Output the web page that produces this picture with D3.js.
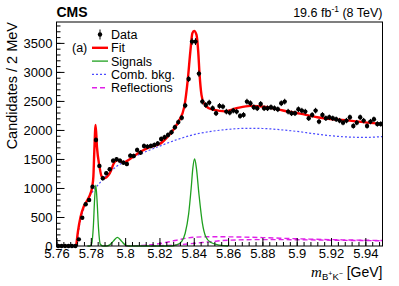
<!DOCTYPE html>
<html>
<head>
<meta charset="utf-8">
<script src="https://cdn.jsdelivr.net/npm/d3@7"></script>
<style>
  body { margin: 0; background: #fff; }
  svg { font-family: "Liberation Sans", Arial, sans-serif; }
</style>
</head>
<body>
<svg id="chart" width="399" height="286"></svg>
<script>
// Data: counts per 2 MeV bin, starting at 5.760 GeV
const binStart = 5.76;
const binWidth = 0.002;
const counts = [
  0, 0, 0, 0, 0, 0, 115, 488, 719, 793,
  1022, 1828, 1380, 1167, 1253, 1322, 1471, 1494, 1471, 1436,
  1414, 1557, 1552, 1655, 1609, 1724, 1713, 1724, 1741, 1767,
  1845, 1874, 1914, 1960, 2046, 2135, 2210, 2420, 2879, 3522,
  3522, 2971, 2488, 2431, 2471, 2374, 2287, 2414, 2402, 2316,
  2299, 2333, 2316, 2241, 2259, 2488, 2460, 2391, 2374, 2448,
  2374, 2374, 2391, 2374, 2356, 2460, 2488, 2316, 2287, 2287,
  2356, 2333, 2316, 2201, 2259, 2333, 2144, 2259, 2201, 2218,
  2201, 2184, 2161, 2126, 2161, 2218, 2069, 2126, 2218, 2161,
  2069, 2144, 2184, 2103, 2103
];

// Fit components, [mass, candidates]
const fitCurve = [
  [5.7715, 0], [5.7725, 250], [5.774, 500], [5.776, 690], [5.778, 790],
  [5.7795, 880], [5.7808, 1020], [5.7815, 1200], [5.782, 1600], [5.7828, 2086],
  [5.7836, 1700], [5.785, 1380], [5.7863, 1200], [5.788, 1170], [5.791, 1253],
  [5.794, 1453], [5.796, 1483], [5.799, 1436], [5.802, 1483], [5.8087, 1620],
  [5.814, 1700], [5.8203, 1760], [5.824, 1860], [5.827, 1960], [5.829, 2040],
  [5.8311, 2143], [5.8345, 2402], [5.8365, 2862], [5.838, 3350], [5.8392, 3667],
  [5.8402, 3707], [5.8416, 3638], [5.8426, 3350], [5.8434, 2948], [5.8445, 2603],
  [5.8459, 2460], [5.8488, 2374], [5.852, 2345], [5.858, 2320], [5.865, 2375],
  [5.873, 2415], [5.882, 2395], [5.892, 2335], [5.902, 2280], [5.912, 2218],
  [5.921, 2184], [5.931, 2161], [5.941, 2126], [5.95, 2103]
];
const signalCurve = [
  [5.778, 0], [5.7795, 0], [5.7805, 40], [5.7815, 350], [5.7822, 800],
  [5.7829, 1050], [5.7836, 800], [5.7845, 300], [5.7855, 30], [5.787, 0],
  [5.789, 0], [5.791, 20], [5.793, 80], [5.7955, 150], [5.798, 80],
  [5.80, 20], [5.802, 0], [5.826, 0], [5.83, 20], [5.833, 80],
  [5.835, 220], [5.837, 550], [5.8385, 1000], [5.8395, 1350], [5.8405, 1500],
  [5.8415, 1350], [5.843, 900], [5.845, 400], [5.847, 160], [5.85, 60],
  [5.855, 15], [5.86, 0]
];
const combBkg = [
  [5.7718, 0], [5.7728, 250], [5.774, 450], [5.776, 650], [5.778, 790],
  [5.78, 890], [5.785, 1080], [5.79, 1240], [5.795, 1370], [5.80, 1460],
  [5.81, 1600], [5.82, 1720], [5.83, 1830], [5.84, 1920], [5.85, 1975],
  [5.86, 2010], [5.87, 2028], [5.88, 2025], [5.89, 2005], [5.90, 1975],
  [5.91, 1935], [5.92, 1900], [5.93, 1878], [5.94, 1872], [5.95, 1885]
];
const reflection1 = [
  [5.80, 0], [5.81, 10], [5.82, 40], [5.83, 100], [5.84, 150], [5.85, 160],
  [5.86, 158], [5.88, 145], [5.90, 125], [5.92, 110], [5.95, 95]
];
const reflection2 = [
  [5.815, 0], [5.83, 20], [5.84, 45], [5.85, 75], [5.86, 100], [5.88, 110],
  [5.90, 108], [5.92, 100], [5.95, 90]
];

const xTicks = [5.76, 5.78, 5.8, 5.82, 5.84, 5.86, 5.88, 5.9, 5.92, 5.94];
const yTicks = [0, 500, 1000, 1500, 2000, 2500, 3000, 3500];

const padLeft = 56.5, padRight = 382.5, padTop = 22, padBottom = 246;
const svg = d3.select("#chart");

const x = d3.scaleLinear().domain([5.76, 5.95]).range([padLeft, padRight]);
const y = d3.scaleLinear().domain([0, 3860]).range([padBottom, padTop]);

// curves
const line = d3.line()
  .x((d) => x(d[0]))
  .y((d) => y(d[1]))
  .curve(d3.curveMonotoneX);

svg.append("path").datum(combBkg)
  .attr("d", line).attr("fill", "none")
  .attr("stroke", "#4b4bff").attr("stroke-width", 1.2)
  .attr("stroke-dasharray", "2,2");
svg.append("path").datum(reflection1)
  .attr("d", line).attr("fill", "none")
  .attr("stroke", "#e020e8").attr("stroke-width", 1.4)
  .attr("stroke-dasharray", "5,3");
svg.append("path").datum(reflection2)
  .attr("d", line).attr("fill", "none")
  .attr("stroke", "#e020e8").attr("stroke-width", 1.4)
  .attr("stroke-dasharray", "5,3");
svg.append("path").datum(signalCurve)
  .attr("d", line).attr("fill", "none")
  .attr("stroke", "#1fa01f").attr("stroke-width", 1.3);
svg.append("path").datum(fitCurve)
  .attr("d", line).attr("fill", "none")
  .attr("stroke", "#ff0000").attr("stroke-width", 2.4);

// data points with error bars
const points = counts.map((c, i) => ({ m: binStart + binWidth * (i + 0.5), c: c }));
const pts = svg.append("g");
pts.selectAll(".eh").data(points).enter().append("line")
  .attr("x1", (d) => x(d.m - binWidth / 2))
  .attr("x2", (d) => x(d.m + binWidth / 2))
  .attr("y1", (d) => y(d.c)).attr("y2", (d) => y(d.c))
  .attr("stroke", "#000").attr("stroke-width", 1);
pts.selectAll(".ev").data(points.filter((d) => d.c > 0)).enter().append("line")
  .attr("x1", (d) => x(d.m)).attr("x2", (d) => x(d.m))
  .attr("y1", (d) => y(d.c - Math.sqrt(d.c)))
  .attr("y2", (d) => y(d.c + Math.sqrt(d.c)))
  .attr("stroke", "#000").attr("stroke-width", 1);
pts.selectAll("circle").data(points).enter().append("circle")
  .attr("cx", (d) => x(d.m)).attr("cy", (d) => y(d.c))
  .attr("r", 2.2).attr("fill", "#000");

// axes, ROOT style ticks inside
const xAxis = svg.append("g").attr("transform", `translate(0,${padBottom})`);
xAxis.call(d3.axisBottom(x).tickValues(d3.range(5.76, 5.9501, 0.004)).tickSize(-4).tickFormat(""));
xAxis.append("g").call(d3.axisBottom(x).tickValues(xTicks).tickSize(-8).tickPadding(3)
  .tickFormat((d) => d3.format("~g")(d)));
xAxis.selectAll("path.domain").remove();
xAxis.selectAll("text").attr("font-size", 13).attr("fill", "#000")
  .attr("font-family", "Liberation Sans, Arial, sans-serif");

const yAxis = svg.append("g").attr("transform", `translate(${padLeft},0)`);
yAxis.call(d3.axisLeft(y).tickValues(d3.range(0, 3801, 100)).tickSize(-4).tickFormat(""));
yAxis.append("g").call(d3.axisLeft(y).tickValues(yTicks).tickSize(-8).tickPadding(4)
  .tickFormat(d3.format("d")));
yAxis.selectAll("path.domain").remove();
yAxis.selectAll("text").attr("font-size", 13).attr("fill", "#000")
  .attr("font-family", "Liberation Sans, Arial, sans-serif");

// frame
svg.append("rect")
  .attr("x", padLeft).attr("y", padTop)
  .attr("width", padRight - padLeft).attr("height", padBottom - padTop)
  .attr("fill", "none").attr("stroke", "#000").attr("stroke-width", 1);

// titles
svg.append("text").attr("x", padLeft).attr("y", 17)
  .attr("font-size", 14).attr("font-weight", "bold").text("CMS");
const lumi = svg.append("text").attr("x", padRight).attr("y", 17)
  .attr("text-anchor", "end").attr("font-size", 12.5);
lumi.append("tspan").text("19.6 fb");
lumi.append("tspan").attr("font-size", 8.5).attr("dy", -5).text("-1");
lumi.append("tspan").attr("dy", 5).text(" (8 TeV)");

svg.append("text")
  .attr("transform", `translate(17,${padTop}) rotate(-90)`)
  .attr("text-anchor", "end").attr("font-size", 14.5)
  .text("Candidates / 2 MeV");

const xl = svg.append("text").attr("x", padRight).attr("y", 277)
  .attr("text-anchor", "end").attr("font-size", 14);
xl.append("tspan").attr("font-family", "Liberation Serif, serif").attr("font-style", "italic")
  .attr("font-size", 15).text("m");
xl.append("tspan").attr("font-size", 9.5).attr("dy", 3).text("B");
xl.append("tspan").attr("font-size", 7).attr("dy", -4).text("+");
xl.append("tspan").attr("font-size", 9.5).attr("dy", 4).text("K");
xl.append("tspan").attr("font-size", 7).attr("dy", -4).text("−");
xl.append("tspan").attr("dy", 1).text(" [GeV]");

// legend
const legendItems = ["Data", "Fit", "Signals", "Comb. bkg.", "Reflections"];
const legendStyle = [
  { stroke: "#000" },
  { stroke: "#ff0000", w: 2.4 },
  { stroke: "#1fa01f", w: 1.3 },
  { stroke: "#4b4bff", w: 1.2, dash: "2,2" },
  { stroke: "#e020e8", w: 1.4, dash: "5,3" }
];
const lg = svg.append("g");
legendItems.forEach((name, i) => {
  const cy = 34.5 + i * 13.3;
  const st = legendStyle[i];
  if (i === 0) {
    lg.append("line").attr("x1", 100).attr("x2", 100).attr("y1", cy - 5).attr("y2", cy + 5)
      .attr("stroke", "#000");
    lg.append("circle").attr("cx", 100).attr("cy", cy).attr("r", 2.2).attr("fill", "#000");
  } else {
    lg.append("line").attr("x1", 92).attr("x2", 108).attr("y1", cy).attr("y2", cy)
      .attr("stroke", st.stroke).attr("stroke-width", st.w)
      .attr("stroke-dasharray", st.dash || null);
  }
  lg.append("text").attr("x", 111).attr("y", cy + 4.5).attr("font-size", 12.5).text(name);
});
svg.append("text").attr("x", 72).attr("y", 52).attr("font-size", 12.5).text("(a)");
</script>
</body>
</html>
